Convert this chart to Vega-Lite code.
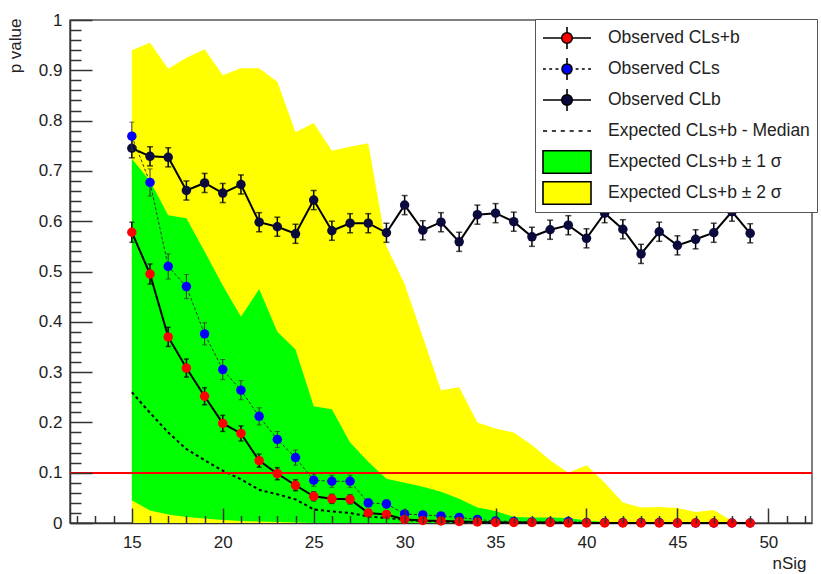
{
  "$schema": "https://vega.github.io/schema/vega-lite/v6.json",
  "width": 742,
  "height": 503,
  "autosize": {"type": "none"},
  "padding": {"left": 70, "top": 20, "right": 9, "bottom": 51},
  "background": "#ffffff",
  "config": {
    "font": "Liberation Sans",
    "view": {"stroke": "#555555", "strokeWidth": 1.5},
    "axis": {"grid": false, "labelFont": "Liberation Sans", "titleFont": "Liberation Sans"},
    "legend": {
      "orient": "none", "legendX": 465, "legendY": -1,
      "direction": "vertical",
      "fillColor": "#ffffff", "strokeColor": "#555555",
      "padding": 7, "rowPadding": 7, "gridAlign": "all", "clipHeight": 24,
      "symbolSize": 2304, "symbolStrokeColor": "#000000", "symbolStrokeWidth": 1.6, "symbolOpacity": 1,
      "labelOffset": 16, "labelFontSize": 17.5, "labelFont": "Liberation Sans", "labelColor": "#222222", "labelLimit": 400,
      "zindex": 2
    }
  },
  "data": {
    "values": [
      {"nSig": 15, "clsb": 0.578, "clsb_e": 0.02, "cls": 0.769, "cls_e": 0.028, "clb": 0.745, "clb_e": 0.019, "med": 0.26, "lo1": 0.045, "hi1": 0.724, "lo2": 0, "hi2": 0.94},
      {"nSig": 16, "clsb": 0.495, "clsb_e": 0.02, "cls": 0.677, "cls_e": 0.027, "clb": 0.729, "clb_e": 0.019, "med": 0.219, "lo1": 0.025, "hi1": 0.68, "lo2": 0, "hi2": 0.955},
      {"nSig": 17, "clsb": 0.37, "clsb_e": 0.019, "cls": 0.51, "cls_e": 0.025, "clb": 0.727, "clb_e": 0.019, "med": 0.18, "lo1": 0.017, "hi1": 0.612, "lo2": 0, "hi2": 0.903},
      {"nSig": 18, "clsb": 0.308, "clsb_e": 0.018, "cls": 0.47, "cls_e": 0.024, "clb": 0.661, "clb_e": 0.019, "med": 0.147, "lo1": 0.012, "hi1": 0.606, "lo2": 0, "hi2": 0.925},
      {"nSig": 19, "clsb": 0.252, "clsb_e": 0.017, "cls": 0.376, "cls_e": 0.022, "clb": 0.676, "clb_e": 0.019, "med": 0.125, "lo1": 0.009, "hi1": 0.54, "lo2": 0, "hi2": 0.942},
      {"nSig": 20, "clsb": 0.198, "clsb_e": 0.016, "cls": 0.305, "cls_e": 0.02, "clb": 0.656, "clb_e": 0.019, "med": 0.104, "lo1": 0.006, "hi1": 0.472, "lo2": 0, "hi2": 0.89},
      {"nSig": 21, "clsb": 0.178, "clsb_e": 0.015, "cls": 0.264, "cls_e": 0.019, "clb": 0.673, "clb_e": 0.019, "med": 0.087, "lo1": 0.004, "hi1": 0.41, "lo2": 0, "hi2": 0.904},
      {"nSig": 22, "clsb": 0.124, "clsb_e": 0.013, "cls": 0.212, "cls_e": 0.017, "clb": 0.598, "clb_e": 0.019, "med": 0.066, "lo1": 0.003, "hi1": 0.465, "lo2": 0, "hi2": 0.904},
      {"nSig": 23, "clsb": 0.098, "clsb_e": 0.012, "cls": 0.166, "cls_e": 0.016, "clb": 0.589, "clb_e": 0.019, "med": 0.057, "lo1": 0.002, "hi1": 0.38, "lo2": 0, "hi2": 0.877},
      {"nSig": 24, "clsb": 0.075, "clsb_e": 0.011, "cls": 0.13, "cls_e": 0.015, "clb": 0.575, "clb_e": 0.019, "med": 0.047, "lo1": 0.001, "hi1": 0.345, "lo2": 0, "hi2": 0.777},
      {"nSig": 25, "clsb": 0.053, "clsb_e": 0.009, "cls": 0.085, "cls_e": 0.012, "clb": 0.642, "clb_e": 0.019, "med": 0.027, "lo1": 0, "hi1": 0.232, "lo2": 0, "hi2": 0.795},
      {"nSig": 26, "clsb": 0.048, "clsb_e": 0.009, "cls": 0.083, "cls_e": 0.012, "clb": 0.581, "clb_e": 0.019, "med": 0.023, "lo1": 0, "hi1": 0.226, "lo2": 0, "hi2": 0.74},
      {"nSig": 27, "clsb": 0.047, "clsb_e": 0.009, "cls": 0.083, "cls_e": 0.012, "clb": 0.596, "clb_e": 0.019, "med": 0.02, "lo1": 0, "hi1": 0.16, "lo2": 0, "hi2": 0.748},
      {"nSig": 28, "clsb": 0.02, "clsb_e": 0.006, "cls": 0.04, "cls_e": 0.008, "clb": 0.596, "clb_e": 0.019, "med": 0.013, "lo1": 0, "hi1": 0.122, "lo2": 0, "hi2": 0.755},
      {"nSig": 29, "clsb": 0.017, "clsb_e": 0.005, "cls": 0.038, "cls_e": 0.008, "clb": 0.577, "clb_e": 0.019, "med": 0.01, "lo1": 0, "hi1": 0.088, "lo2": 0, "hi2": 0.55},
      {"nSig": 30, "clsb": 0.007, "clsb_e": 0.004, "cls": 0.018, "cls_e": 0.005, "clb": 0.632, "clb_e": 0.019, "med": 0.006, "lo1": 0, "hi1": 0.08, "lo2": 0, "hi2": 0.475},
      {"nSig": 31, "clsb": 0.005, "clsb_e": 0.003, "cls": 0.016, "cls_e": 0.005, "clb": 0.582, "clb_e": 0.019, "med": 0.004, "lo1": 0, "hi1": 0.072, "lo2": 0, "hi2": 0.37},
      {"nSig": 32, "clsb": 0.004, "clsb_e": 0.002, "cls": 0.014, "cls_e": 0.004, "clb": 0.598, "clb_e": 0.019, "med": 0.003, "lo1": 0, "hi1": 0.062, "lo2": 0, "hi2": 0.264},
      {"nSig": 33, "clsb": 0.003, "clsb_e": 0.002, "cls": 0.011, "cls_e": 0.003, "clb": 0.559, "clb_e": 0.019, "med": 0.002, "lo1": 0, "hi1": 0.048, "lo2": 0, "hi2": 0.27},
      {"nSig": 34, "clsb": 0.002, "clsb_e": 0.001, "cls": 0.007, "cls_e": 0.002, "clb": 0.613, "clb_e": 0.019, "med": 0.001, "lo1": 0, "hi1": 0.031, "lo2": 0, "hi2": 0.2},
      {"nSig": 35, "clsb": 0.001, "clsb_e": 0.001, "cls": 0.004, "cls_e": 0.002, "clb": 0.616, "clb_e": 0.019, "med": 0, "lo1": 0, "hi1": 0.024, "lo2": 0, "hi2": 0.188},
      {"nSig": 36, "clsb": 0.001, "clsb_e": 0.001, "cls": 0.003, "cls_e": 0.001, "clb": 0.599, "clb_e": 0.019, "med": 0, "lo1": 0, "hi1": 0.012, "lo2": 0, "hi2": 0.18},
      {"nSig": 37, "clsb": 0.001, "clsb_e": 0.001, "cls": 0.002, "cls_e": 0.001, "clb": 0.569, "clb_e": 0.019, "med": 0, "lo1": 0, "hi1": 0.011, "lo2": 0, "hi2": 0.155},
      {"nSig": 38, "clsb": 0.001, "clsb_e": 0.001, "cls": 0.002, "cls_e": 0.001, "clb": 0.583, "clb_e": 0.019, "med": 0, "lo1": 0, "hi1": 0.011, "lo2": 0, "hi2": 0.125},
      {"nSig": 39, "clsb": 0, "clsb_e": 0, "cls": 0.003, "cls_e": 0.001, "clb": 0.592, "clb_e": 0.019, "med": 0, "lo1": 0, "hi1": 0.01, "lo2": 0, "hi2": 0.1},
      {"nSig": 40, "clsb": 0, "clsb_e": 0, "cls": 0.001, "cls_e": 0.001, "clb": 0.566, "clb_e": 0.019, "med": 0, "lo1": 0, "hi1": 0.005, "lo2": 0, "hi2": 0.115},
      {"nSig": 41, "clsb": 0, "clsb_e": 0, "cls": 0.001, "cls_e": 0, "clb": 0.616, "clb_e": 0.019, "med": 0, "lo1": 0, "hi1": 0.002, "lo2": 0, "hi2": 0.08},
      {"nSig": 42, "clsb": 0, "clsb_e": 0, "cls": 0.001, "cls_e": 0, "clb": 0.584, "clb_e": 0.019, "med": 0, "lo1": 0, "hi1": 0, "lo2": 0, "hi2": 0.041},
      {"nSig": 43, "clsb": 0, "clsb_e": 0, "cls": 0.001, "cls_e": 0, "clb": 0.535, "clb_e": 0.019, "med": 0, "lo1": 0, "hi1": 0, "lo2": 0, "hi2": 0.031},
      {"nSig": 44, "clsb": 0, "clsb_e": 0, "cls": 0.001, "cls_e": 0, "clb": 0.579, "clb_e": 0.019, "med": 0, "lo1": 0, "hi1": 0, "lo2": 0, "hi2": 0.032},
      {"nSig": 45, "clsb": 0, "clsb_e": 0, "cls": 0, "cls_e": 0, "clb": 0.552, "clb_e": 0.019, "med": 0, "lo1": 0, "hi1": 0, "lo2": 0, "hi2": 0.03},
      {"nSig": 46, "clsb": 0, "clsb_e": 0, "cls": 0, "cls_e": 0, "clb": 0.564, "clb_e": 0.019, "med": 0, "lo1": 0, "hi1": 0, "lo2": 0, "hi2": 0.022},
      {"nSig": 47, "clsb": 0, "clsb_e": 0, "cls": 0, "cls_e": 0, "clb": 0.577, "clb_e": 0.019, "med": 0, "lo1": 0, "hi1": 0, "lo2": 0, "hi2": 0.026},
      {"nSig": 48, "clsb": 0, "clsb_e": 0, "cls": 0, "cls_e": 0, "clb": 0.619, "clb_e": 0.019, "med": 0, "lo1": 0, "hi1": 0, "lo2": 0, "hi2": 0.004},
      {"nSig": 49, "clsb": 0, "clsb_e": 0, "cls": 0, "cls_e": 0, "clb": 0.576, "clb_e": 0.019, "med": 0, "lo1": 0, "hi1": 0, "lo2": 0, "hi2": 0}
    ]
  },
  "resolve": {"axis": {"x": "independent", "y": "independent"}},
  "layer": [
    {
      "mark": {"type": "area", "opacity": 1},
      "encoding": {
        "x": {
          "field": "nSig", "type": "quantitative",
          "scale": {"domain": [11.6, 52.4], "nice": false, "zero": false},
          "axis": {
            "orient": "bottom", "values": [15, 20, 25, 30, 35, 40, 45, 50], "format": "d",
            "ticks": false, "domain": true, "domainColor": "#333333", "domainWidth": 1.5,
            "labelFontSize": 17, "labelColor": "#222222", "labelPadding": 11,
            "title": "nSig", "titleFontSize": 17, "titleFontWeight": "normal", "titleColor": "#222222",
            "titleX": 736, "titleY": 40, "titleAlign": "right", "titleBaseline": "middle"
          }
        },
        "y": {
          "field": "hi2", "type": "quantitative",
          "scale": {"domain": [0, 1], "nice": false, "zero": true},
          "axis": {
            "orient": "left", "values": [0, 0.1, 0.2, 0.3, 0.4, 0.5, 0.6, 0.7, 0.8, 0.9, 1], "format": "~g",
            "ticks": false, "domain": true, "domainColor": "#333333", "domainWidth": 1.5,
            "labelFontSize": 17, "labelColor": "#222222", "labelPadding": 8,
            "title": "p value", "titleFontSize": 17, "titleFontWeight": "normal", "titleColor": "#222222",
            "titleX": -55, "titleY": -2, "titleAngle": 270, "titleAlign": "right", "titleBaseline": "middle"
          }
        },
        "y2": {"field": "lo2"},
        "color": {
          "datum": "Expected CLs+b ± 2 σ",
          "scale": {
            "domain": ["Observed CLs+b", "Observed CLs", "Observed CLb", "Expected CLs+b - Median", "Expected CLs+b ± 1 σ", "Expected CLs+b ± 2 σ"],
            "range": ["#ff0000", "#0000ff", "#0a0a3c", "#000000", "#00ff00", "#ffff00"]
          },
          "legend": {"title": null}
        }
      }
    },
    {
      "mark": {"type": "area", "opacity": 1},
      "encoding": {
        "x": {
          "field": "nSig", "type": "quantitative",
          "axis": {
            "orient": "bottom", "values": [15, 20, 25, 30, 35, 40, 45, 50],
            "labels": false, "domain": false, "title": null,
            "ticks": true, "tickSize": -15, "tickColor": "#333333", "tickWidth": 1.5, "zindex": 1
          }
        },
        "y": {
          "field": "hi1", "type": "quantitative",
          "axis": {
            "orient": "left", "values": [0, 0.1, 0.2, 0.3, 0.4, 0.5, 0.6, 0.7, 0.8, 0.9, 1],
            "labels": false, "domain": false, "title": null,
            "ticks": true, "tickSize": -22, "tickColor": "#333333", "tickWidth": 1.5, "zindex": 1
          }
        },
        "y2": {"field": "lo1"},
        "color": {"datum": "Expected CLs+b ± 1 σ"}
      }
    },
    {
      "mark": {"type": "line", "color": "#000000", "strokeWidth": 2, "strokeDash": [3, 3], "opacity": 1},
      "encoding": {
        "x": {
          "field": "nSig", "type": "quantitative",
          "axis": {
            "orient": "bottom", "values": [12, 13, 14, 16, 17, 18, 19, 21, 22, 23, 24, 26, 27, 28, 29, 31, 32, 33, 34, 36, 37, 38, 39, 41, 42, 43, 44, 46, 47, 48, 49, 51, 52],
            "labels": false, "domain": false, "title": null,
            "ticks": true, "tickSize": -7.5, "tickColor": "#333333", "tickWidth": 1.5, "zindex": 1
          }
        },
        "y": {
          "field": "med", "type": "quantitative",
          "axis": {
            "orient": "left", "values": [0.02, 0.04, 0.06, 0.08, 0.12, 0.14, 0.16, 0.18, 0.22, 0.24, 0.26, 0.28, 0.32, 0.34, 0.36, 0.38, 0.42, 0.44, 0.46, 0.48, 0.52, 0.54, 0.56, 0.58, 0.62, 0.64, 0.66, 0.68, 0.72, 0.74, 0.76, 0.78, 0.82, 0.84, 0.86, 0.88, 0.92, 0.94, 0.96, 0.98],
            "labels": false, "domain": false, "title": null,
            "ticks": true, "tickSize": -11, "tickColor": "#333333", "tickWidth": 1.5, "zindex": 1
          }
        }
      }
    },
    {
      "mark": {"type": "rule", "color": "#ff0000", "strokeOpacity": 0.5, "strokeWidth": 1.5},
      "encoding": {
        "y": {"datum": 0.1, "type": "quantitative", "axis": null}
      }
    },
    {
      "mark": {"type": "line", "color": "#000000", "strokeWidth": 2, "opacity": 1},
      "encoding": {
        "x": {"field": "nSig", "type": "quantitative", "axis": null},
        "y": {"field": "clb", "type": "quantitative", "axis": null}
      }
    },
    {
      "mark": {"type": "errorbar", "color": "#000000", "thickness": 1.5, "ticks": {"size": 6, "thickness": 1.5}},
      "encoding": {
        "x": {"field": "nSig", "type": "quantitative", "axis": null},
        "y": {"field": "clb", "type": "quantitative", "axis": null},
        "yError": {"field": "clb_e"}
      }
    },
    {
      "mark": {"type": "circle", "size": 90, "opacity": 1},
      "encoding": {
        "x": {"field": "nSig", "type": "quantitative", "axis": null},
        "y": {"field": "clb", "type": "quantitative", "axis": null},
        "color": {"datum": "Observed CLb"}
      }
    },
    {
      "mark": {"type": "line", "color": "#333333", "strokeWidth": 1, "strokeDash": [3, 2], "opacity": 1},
      "encoding": {
        "x": {"field": "nSig", "type": "quantitative", "axis": null},
        "y": {"field": "cls", "type": "quantitative", "axis": null}
      }
    },
    {
      "mark": {"type": "errorbar", "color": "#333333", "thickness": 1, "ticks": {"size": 5, "thickness": 1}},
      "encoding": {
        "x": {"field": "nSig", "type": "quantitative", "axis": null},
        "y": {"field": "cls", "type": "quantitative", "axis": null},
        "yError": {"field": "cls_e"}
      }
    },
    {
      "mark": {"type": "circle", "size": 90, "opacity": 1},
      "encoding": {
        "x": {"field": "nSig", "type": "quantitative", "axis": null},
        "y": {"field": "cls", "type": "quantitative", "axis": null},
        "color": {"datum": "Observed CLs"}
      }
    },
    {
      "mark": {"type": "line", "color": "#000000", "strokeWidth": 2, "opacity": 1},
      "encoding": {
        "x": {"field": "nSig", "type": "quantitative", "axis": null},
        "y": {"field": "clsb", "type": "quantitative", "axis": null}
      }
    },
    {
      "mark": {"type": "errorbar", "color": "#000000", "thickness": 1.5, "ticks": {"size": 5, "thickness": 1.5}},
      "encoding": {
        "x": {"field": "nSig", "type": "quantitative", "axis": null},
        "y": {"field": "clsb", "type": "quantitative", "axis": null},
        "yError": {"field": "clsb_e"}
      }
    },
    {
      "mark": {"type": "circle", "size": 90, "opacity": 1},
      "encoding": {
        "x": {"field": "nSig", "type": "quantitative", "axis": null},
        "y": {"field": "clsb", "type": "quantitative", "axis": null},
        "color": {"datum": "Observed CLs+b"}
      }
    },
    {
      "transform": [{"filter": "datum.nSig < 0"}],
      "mark": {"type": "point", "filled": false},
      "encoding": {
        "x": {"field": "nSig", "type": "quantitative", "axis": null},
        "y": {"field": "clsb", "type": "quantitative", "axis": null},
        "shape": {
          "datum": "Observed CLs+b",
          "scale": {
            "domain": ["Observed CLs+b", "Observed CLs", "Observed CLb", "Expected CLs+b - Median", "Expected CLs+b ± 1 σ", "Expected CLs+b ± 2 σ"],
            "range": [
              "M-1,0H-0.22M0.22,0H1M0,-0.46V-0.22M0,0.22V0.46M0.22,0A0.22,0.22 0 1,1 -0.22,0A0.22,0.22 0 1,1 0.22,0Z",
              "M-1,0H-0.88M-0.74,0H-0.62M-0.48,0H-0.36M0.36,0H0.48M0.62,0H0.74M0.88,0H1M0,-0.46V-0.22M0,0.22V0.46M0.21,0A0.21,0.21 0 1,1 -0.21,0A0.21,0.21 0 1,1 0.21,0Z",
              "M-1,0H-0.22M0.22,0H1M0,-0.46V-0.22M0,0.22V0.46M0.22,0A0.22,0.22 0 1,1 -0.22,0A0.22,0.22 0 1,1 0.22,0Z",
              "M-1,0H-0.83M-0.63,0H-0.46M-0.26,0H-0.09M0.11,0H0.28M0.48,0H0.65M0.85,0H1",
              "M-1,-0.47H1V0.47H-1Z",
              "M-1,-0.47H1V0.47H-1Z"
            ]
          },
          "legend": {
            "title": null,
            "encode": {
              "symbols": {
                "stroke": {"value": "#000000"},
                "strokeWidth": {"value": 1.6}
              }
            }
          }
        }
      }
    }
  ]
}
